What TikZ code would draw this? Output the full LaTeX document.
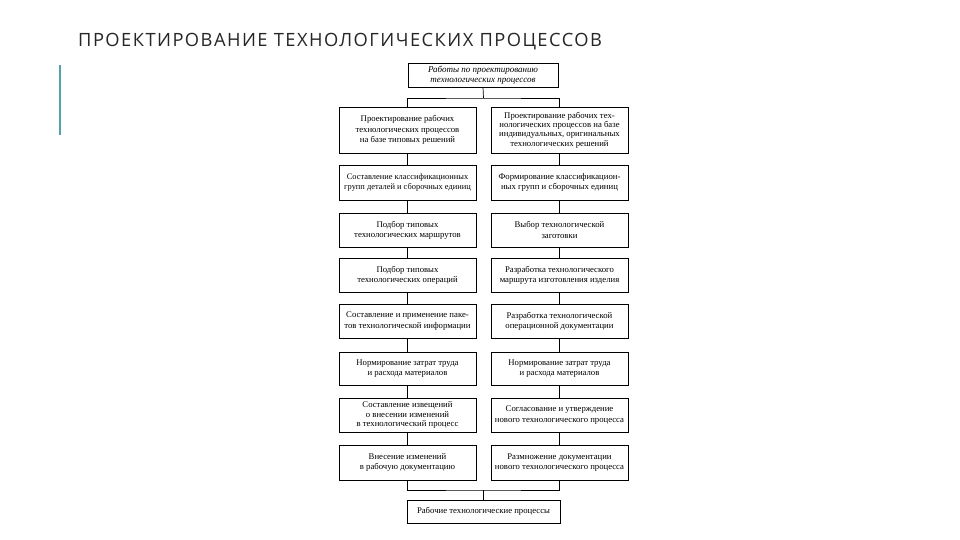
\documentclass[tikz,border=0pt]{standalone}
\usepackage{fontspec}
\setmainfont{Liberation Serif}
\newfontfamily\titlefont[LetterSpace=8]{Open Sans}
\usepackage{tikz}
\usetikzlibrary{positioning}
\tikzset{blk/.style = {draw, rectangle, inner sep = 0, align = center, line width = 0.7pt,
    minimum width = 137, font = \fontsize{8.7}{10.3}\selectfont}}
\tikzset{tight/.style = {font = \fontsize{8.7}{9.4}\selectfont}}
\definecolor{mteal}{rgb}{0.33, 0.64, 0.67}

\begin{document}
\begin{tikzpicture}[x = 1pt, y = -1pt]
      \useasboundingbox [fill = white] (0, 0) rectangle (960, 540);
      \node [anchor = base west, inner sep = 0, font = \titlefont\fontsize{18.3}{21}\selectfont,
        text = black!85] (title) at (78, 47) {ПРОЕКТИРОВАНИЕ ТЕХНОЛОГИЧЕСКИХ ПРОЦЕССОВ};
      \draw [mteal, line width = 2.5pt] (60, 65) -- (60, 135);
      \node [blk, minimum width = 150, minimum height = 24, font = \itshape\fontsize{9}{9.6}\selectfont]
        (top) at (483, 75) {Работы по проектированию\\технологических процессов};
      \node [blk, minimum height = 46] (l1) at (407.5, 130) {Проектирование рабочих\\технологических процессов\\на базе типовых решений};
      \node [blk, tight, minimum height = 46] (r1) at (559.5, 130) {Проектирование рабочих тех-\\нологических процессов на базе\\индивидуальных, оригинальных\\технологических решений};
      \node [blk, minimum height = 35, font = \fontsize{8.4}{10.3}\selectfont] (l2) at (407.5, 182.5) {Составление классификационных\\групп деталей и сборочных единиц};
      \node [blk, minimum height = 35] (r2) at (559.5, 182.5) {Формирование классификацион-\\ных групп и сборочных единиц};
      \node [blk, minimum height = 34] (l3) at (407.5, 230) {Подбор типовых\\технологических маршрутов};
      \node [blk, minimum height = 34] (r3) at (559.5, 230) {Выбор технологической\\заготовки};
      \node [blk, minimum height = 34] (l4) at (407.5, 275) {Подбор типовых\\технологических операций};
      \node [blk, minimum height = 34] (r4) at (559.5, 275) {Разработка технологического\\маршрута изготовления изделия};
      \node [blk, minimum height = 34] (l5) at (407.5, 321) {Составление и применение паке-\\тов технологической информации};
      \node [blk, minimum height = 34] (r5) at (559.5, 321) {Разработка технологической\\операционной документации};
      \node [blk, minimum height = 33] (l6) at (407.5, 368.5) {Нормирование затрат труда\\и расхода материалов};
      \node [blk, minimum height = 33] (r6) at (559.5, 368.5) {Нормирование затрат труда\\и расхода материалов};
      \node [blk, tight, minimum height = 34] (l7) at (407.5, 415) {Составление извещений\\о внесении изменений\\в технологический процесс};
      \node [blk, minimum height = 34] (r7) at (559.5, 415) {Согласование и утверждение\\нового технологического процесса};
      \node [blk, minimum height = 35] (l8) at (407.5, 462.5) {Внесение изменений\\в рабочую документацию};
      \node [blk, minimum height = 35] (r8) at (559.5, 462.5) {Размножение документации\\нового технологического процесса};
      \node [blk, minimum width = 153, minimum height = 23] (bottom) at (483.5, 511.5) {Рабочие технологические процессы};
      \coordinate (split) at (483.5, 98);
      \coordinate (join) at (483.5, 490);
      \draw [line width = 0.7pt] (top.south) -- (split);
      \draw [line width = 0.7pt] (l1.north) |- (split) -| (r1.north);
      \draw [line width = 0.7pt] (l1) -- (l2) (l2) -- (l3) (l3) -- (l4) (l4) -- (l5) (l5) -- (l6) (l6) -- (l7) (l7) -- (l8);
      \draw [line width = 0.7pt] (r1) -- (r2) (r2) -- (r3) (r3) -- (r4) (r4) -- (r5) (r5) -- (r6) (r6) -- (r7) (r7) -- (r8);
      \draw [line width = 0.7pt] (l8.south) |- (join) -| (r8.south);
      \draw [line width = 0.7pt] (join) -- (bottom.north);
    \end{tikzpicture}
\end{document}
